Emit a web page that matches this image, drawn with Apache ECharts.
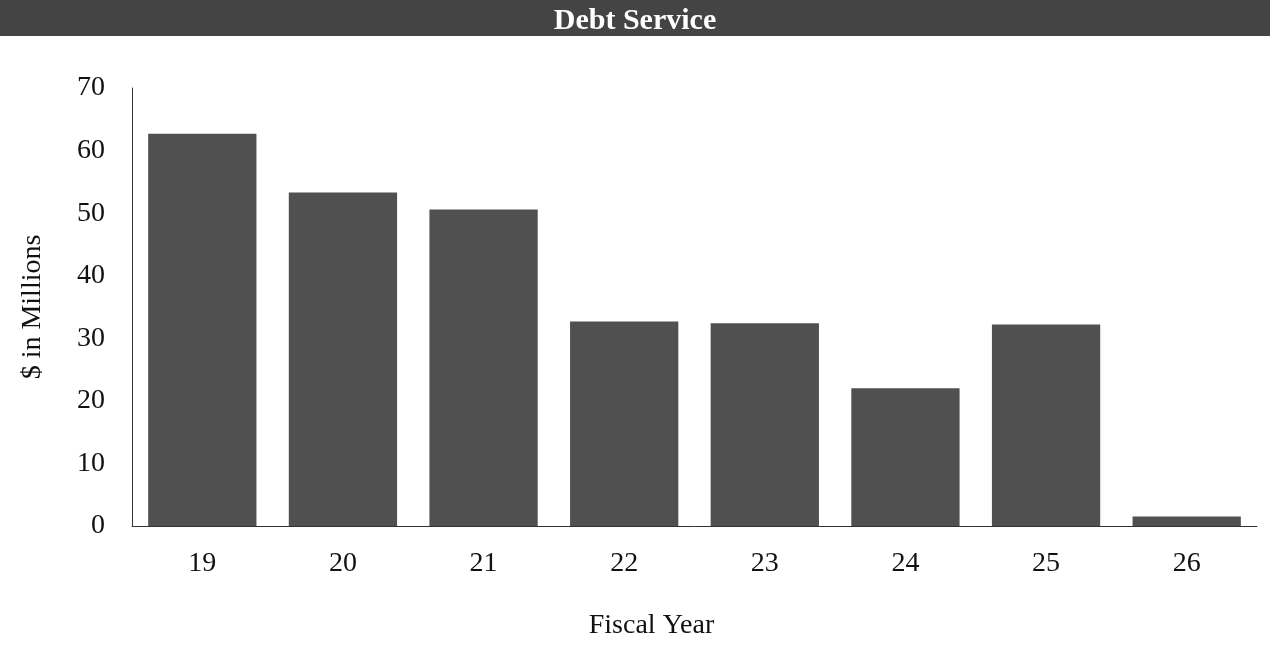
<!DOCTYPE html>
<html>
<head>
<meta charset="utf-8">
<script src="https://cdn.jsdelivr.net/npm/echarts@6/dist/echarts.min.js"></script>
<style>
html,body{margin:0;padding:0;background:#fff;}
#chart{width:1270px;height:655px;}
</style>
</head>
<body>
<div id="chart"></div>
<script>
const titleText = "Debt Service";
const categories = ["19","20","21","22","23","24","25","26"];
const debtService = [62.7, 53.3, 50.6, 32.7, 32.4, 22.0, 32.2, 1.5];
const yTicks = { min: 0, max: 70, interval: 10 };
const xAxisName = "Fiscal Year";
const yAxisName = "$ in Millions";

const serif = "'Liberation Serif', 'DejaVu Serif', serif";
const chart = echarts.init(document.getElementById('chart'));
chart.setOption({
  animation: false,
  backgroundColor: '#ffffff',
  graphic: [{
    type: 'rect',
    left: 0, top: 0, z: -1,
    shape: { width: 1270, height: 36 },
    style: { fill: '#444444' }
  }],
  title: {
    text: titleText,
    left: 'center',
    top: 3,
    padding: [3, 0, 0, 6],
    textStyle: { color: '#ffffff', fontFamily: serif, fontWeight: 'bold', fontSize: 30 }
  },
  grid: { left: 132, right: 13, top: 88, bottom: 129 },
  xAxis: {
    type: 'category',
    data: categories,
    name: xAxisName,
    nameLocation: 'middle',
    nameGap: 86,
    nameTextStyle: { fontFamily: serif, fontSize: 28, color: '#111', padding: [0, 86, 0, 0] },
    axisLine: { show: true, lineStyle: { color: '#333', width: 1 } },
    axisTick: { show: false },
    axisLabel: { fontFamily: serif, fontSize: 28, color: '#111', margin: 24 }
  },
  yAxis: {
    type: 'value',
    min: yTicks.min, max: yTicks.max, interval: yTicks.interval,
    name: yAxisName,
    nameLocation: 'middle',
    nameGap: 85,
    nameTextStyle: { fontFamily: serif, fontSize: 28, color: '#111' },
    axisLine: { show: true, lineStyle: { color: '#333', width: 1 } },
    axisTick: { show: false },
    splitLine: { show: false },
    axisLabel: { fontFamily: serif, fontSize: 28, color: '#111', margin: 27 }
  },
  series: [{
    type: 'bar',
    data: debtService,
    barCategoryGap: '23%',
    itemStyle: { color: '#505050' }
  }]
});
</script>
</body>
</html>
